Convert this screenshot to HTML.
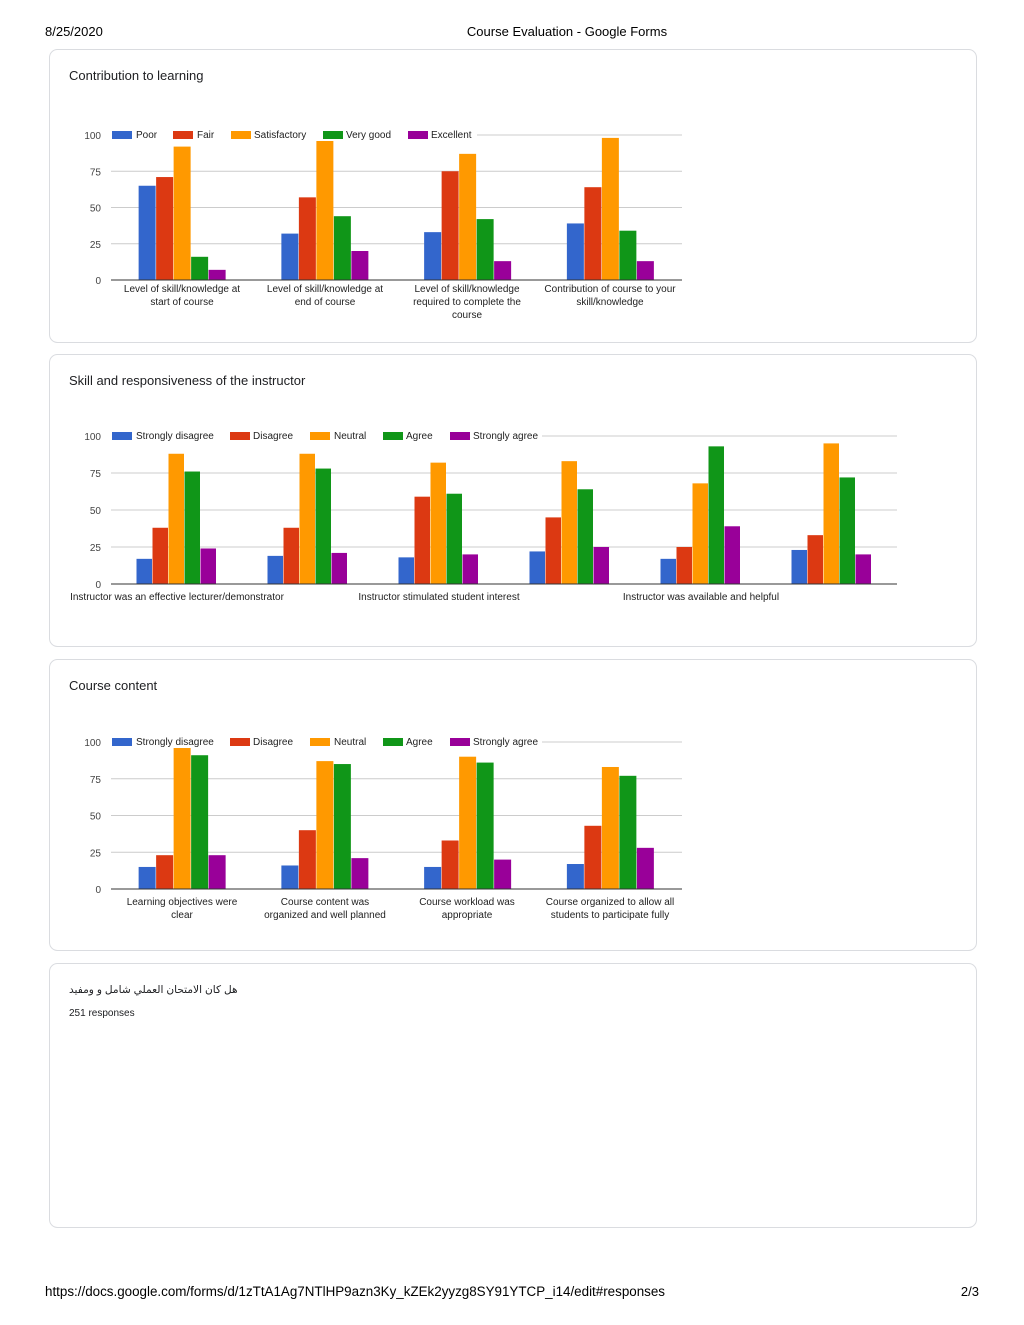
<!DOCTYPE html>
<html><head><meta charset="utf-8"><style>
body{margin:0;background:#fff;font-family:"Liberation Sans",sans-serif}
#wrap{position:relative;width:1024px;height:1325px;overflow:hidden}
</style></head><body><div id="wrap">
<svg id="s" width="1024" height="1325" xmlns="http://www.w3.org/2000/svg" font-family="Liberation Sans, Noto Sans CJK SC, DejaVu Sans, sans-serif">
<text x="45" y="36" font-size="13" fill="#000">8/25/2020</text>
<text x="567" y="36" font-size="13" fill="#000" text-anchor="middle">Course Evaluation - Google Forms</text>
<text x="45" y="1296" font-size="13.4" fill="#000">https://docs.google.com/forms/d/1zTtA1Ag7NTlHP9azn3Ky_kZEk2yyzg8SY91YTCP_i14/edit#responses</text>
<text x="979" y="1296" font-size="13" fill="#000" text-anchor="end">2/3</text>
<rect x="49.5" y="49.5" width="927" height="293" rx="8" fill="#fff" stroke="#dadce0"/>
<rect x="49.5" y="354.5" width="927" height="292" rx="8" fill="#fff" stroke="#dadce0"/>
<rect x="49.5" y="659.5" width="927" height="291" rx="8" fill="#fff" stroke="#dadce0"/>
<rect x="49.5" y="963.5" width="927" height="264" rx="8" fill="#fff" stroke="#dadce0"/>
<text x="69" y="80" font-size="13" fill="#202124">Contribution to learning</text>
<text x="69" y="385" font-size="13" fill="#202124">Skill and responsiveness of the instructor</text>
<text x="69" y="690" font-size="13" fill="#202124">Course content</text>
<text x="69" y="993" font-size="10.6" fill="#202124">هل كان الامتحان العملي شامل و ومفيد</text>
<text x="69" y="1016" font-size="10" fill="#202124">251 responses</text>
<g id="charts"></g>
</svg>
<script>
var C=["#3366cc","#dc3912","#ff9900","#109618","#990099"];
var ns="http://www.w3.org/2000/svg",G=document.getElementById("charts");
function el(t,a,txt){var e=document.createElementNS(ns,t);for(var k in a)e.setAttribute(k,a[k]);if(txt!==undefined)e.textContent=txt;G.appendChild(e);return e;}
function chart(o){
 var h=o.base-o.top;
 [0,25,50,75,100].forEach(function(v){var y=o.base-v*h/100;
  el("line",{x1:o.x0,x2:o.x1,y1:y,y2:y,stroke:v?"#ccc":"#333","stroke-width":1});
  el("text",{x:101,y:y+4,"font-size":10,fill:"#444","text-anchor":"end"},v);});
 var gw=(o.x1-o.x0)/o.data.length,off=(gw-5*o.bw)/2;
 o.data.forEach(function(d,g){d.forEach(function(v,i){
  el("rect",{x:o.x0+g*gw+off+i*o.bw,y:o.base-v*h/100,width:o.bw-0.5,height:v*h/100,fill:C[i]});});});
 el("line",{x1:o.x0,x2:o.x1,y1:o.base,y2:o.base,stroke:"#333","stroke-width":1});
 el("rect",{x:o.lg[0][0]-2,y:o.top-6,width:o.lgEnd-o.lg[0][0]+4,height:12,fill:"#fff"});
 o.lg.forEach(function(l,i){el("rect",{x:l[0],y:o.top-4,width:20,height:8,fill:C[i]});
  el("text",{x:l[1],y:o.top+3,"font-size":10,fill:"#222"},l[2]);});
 o.labels.forEach(function(l){l[1].forEach(function(t,j){
  el("text",{x:l[0],y:o.base+o.ly+j*13,"font-size":10,fill:"#222","text-anchor":"middle"},t);});});
}
var L1=[[112,136,"Poor"],[173,197,"Fair"],[231,254,"Satisfactory"],[323,346,"Very good"],[408,431,"Excellent"]];
var L2=[[112,136,"Strongly disagree"],[230,253,"Disagree"],[310,334,"Neutral"],[383,406,"Agree"],[450,473,"Strongly agree"]];
chart({x0:111,x1:682,top:135,base:280,bw:17.5,lg:L1,lgEnd:475,ly:12,
 data:[[65,71,92,16,7],[32,57,98,44,20],[33,75,87,42,13],[39,64,98,34,13]],
 labels:[[182,["Level of skill/knowledge at","start of course"]],[325,["Level of skill/knowledge at","end of course"]],[467,["Level of skill/knowledge","required to complete the","course"]],[610,["Contribution of course to your","skill/knowledge"]]]});
chart({x0:111,x1:897,top:436,base:584,bw:16,lg:L2,lgEnd:540,ly:16,
 data:[[17,38,88,76,24],[19,38,88,78,21],[18,59,82,61,20],[22,45,83,64,25],[17,25,68,93,39],[23,33,95,72,20]],
 labels:[[177,["Instructor was an effective lecturer/demonstrator"]],[439,["Instructor stimulated student interest"]],[701,["Instructor was available and helpful"]]]});
chart({x0:111,x1:682,top:742,base:889,bw:17.5,lg:L2,lgEnd:540,ly:16,
 data:[[15,23,96,91,23],[16,40,87,85,21],[15,33,90,86,20],[17,43,83,77,28]],
 labels:[[182,["Learning objectives were","clear"]],[325,["Course content was","organized and well planned"]],[467,["Course workload was","appropriate"]],[610,["Course organized to allow all","students to participate fully"]]]});
</script>
</div></body></html>
